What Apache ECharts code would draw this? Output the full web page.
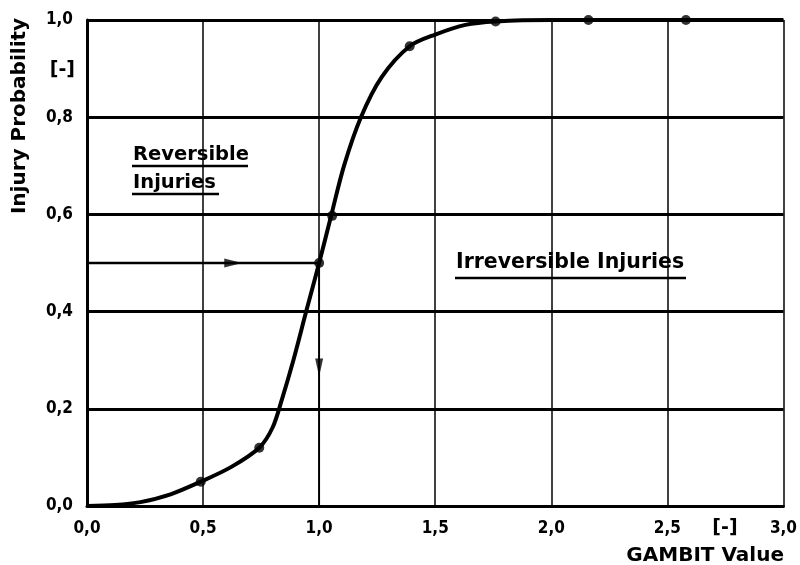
<!DOCTYPE html>
<html><head><meta charset="utf-8">
<script src="https://cdn.jsdelivr.net/npm/echarts@6/dist/echarts.min.js"></script>
<style>html,body{margin:0;padding:0;background:#fff}#c{width:800px;height:565px}</style>
</head><body><div id="c"></div>
<script>
// curve [GAMBIT value, injury probability]
const curveX = [0, 0.12, 0.23, 0.36, 0.49, 0.62, 0.742, 0.80, 0.84, 0.889, 0.944, 1.0, 1.053, 1.107, 1.18, 1.27, 1.39, 1.5, 1.63, 1.76, 2.0, 3.0];
const curveY = [0, 0.002, 0.008, 0.024, 0.05, 0.08, 0.12, 0.162, 0.22, 0.3, 0.4, 0.5, 0.6, 0.7, 0.8, 0.883, 0.946, 0.97, 0.99, 0.997, 1.0, 1.0];
// measured points (dots)
const pointX = [0.49, 0.742, 1.0, 1.056, 1.39, 1.76, 2.16, 2.58];
const pointY = [0.05, 0.12, 0.5, 0.597, 0.946, 0.997, 1.0, 1.0];
// reading arrows
const hArrow = [[0, 0.5], [1.0, 0.5]];
const vArrow = [[1.0, 0.5], [1.0, 0]];
const hHead = [0.63, 0.5];
const vHead = [1.0, 0.285];
const xTicks = ['0,0', '0,5', '1,0', '1,5', '2,0', '2,5', '3,0'];
const yTicks = ['0,0', '0,2', '0,4', '0,6', '0,8', '1,0'];

const FN = '"DejaVu Sans Condensed", "DejaVu Sans", sans-serif';
const F = '"DejaVu Sans", sans-serif';
const chart = echarts.init(document.getElementById('c'), null, {renderer: 'canvas'});
chart.setOption({
  animation: false,
  backgroundColor: '#fff',
  grid: {left: 87, right: 12, top: 20, bottom: 59, containLabel: false},
  xAxis: {
    type: 'value', min: 0, max: 3, interval: 0.5,
    axisLine: {show: true, lineStyle: {color: '#000', width: 3}},
    axisTick: {show: false},
    axisLabel: {margin: 14, color: '#000', fontFamily: FN, fontWeight: 'bold', fontSize: 17,
      formatter: (v) => xTicks[Math.round(v / 0.5)]},
    splitLine: {show: true, lineStyle: {color: '#000', width: 1.5}}
  },
  yAxis: {
    type: 'value', min: 0, max: 1, interval: 0.2,
    axisLine: {show: true, lineStyle: {color: '#000', width: 3}},
    axisTick: {show: false},
    axisLabel: {margin: 14, color: '#000', fontFamily: FN, fontWeight: 'bold', fontSize: 17,
      formatter: (v) => yTicks[Math.round(v / 0.2)]},
    splitLine: {show: true, lineStyle: {color: '#000', width: 3}}
  },
  series: [
    {type: 'line', data: curveX.map((x, i) => [x, curveY[i]]), smooth: 0.3, symbol: 'none',
      lineStyle: {color: '#000', width: 4}, z: 5},
    {type: 'scatter', data: pointX.map((x, i) => [x, pointY[i]]), symbol: 'circle', symbolSize: 10,
      itemStyle: {color: '#000'}, z: 6},
    {type: 'line', data: hArrow, symbol: 'none', lineStyle: {color: '#000', width: 2.5}, z: 4},
    {type: 'line', data: vArrow, symbol: 'none', lineStyle: {color: '#000', width: 1.8}, z: 4},
    {type: 'scatter', data: [hHead], symbol: 'triangle', symbolSize: [9, 18], symbolRotate: -90,
      itemStyle: {color: '#000'}, z: 6},
    {type: 'scatter', data: [vHead], symbol: 'triangle', symbolSize: [8, 18], symbolRotate: 180,
      itemStyle: {color: '#000'}, z: 6}
  ],
  graphic: [
    {type: 'text', x: 20, y: 116, rotation: Math.PI / 2,
      style: {text: 'Injury Probability', font: 'bold 20px ' + F, fill: '#000', align: 'center', verticalAlign: 'middle'}},
    {type: 'text', x: 75, y: 70,
      style: {text: '[-]', font: 'bold 19px ' + F, fill: '#000', align: 'right', verticalAlign: 'middle'}},
    {type: 'text', x: 725, y: 528,
      style: {text: '[-]', font: 'bold 19px ' + F, fill: '#000', align: 'center', verticalAlign: 'middle'}},
    {type: 'text', x: 784, y: 556,
      style: {text: 'GAMBIT Value', font: 'bold 20px ' + F, fill: '#000', align: 'right', verticalAlign: 'middle'}},
    {type: 'text', x: 133, y: 155,
      style: {text: 'Reversible', font: 'bold 19.5px ' + F, fill: '#000', align: 'left', verticalAlign: 'middle'}},
    {type: 'line', shape: {x1: 132, y1: 166, x2: 248, y2: 166}, style: {stroke: '#000', lineWidth: 2.5}},
    {type: 'text', x: 133, y: 183,
      style: {text: 'Injuries', font: 'bold 19.5px ' + F, fill: '#000', align: 'left', verticalAlign: 'middle'}},
    {type: 'line', shape: {x1: 132, y1: 194, x2: 219, y2: 194}, style: {stroke: '#000', lineWidth: 2.5}},
    {type: 'text', x: 456, y: 263,
      style: {text: 'Irreversible Injuries', font: 'bold 20.5px ' + F, fill: '#000', align: 'left', verticalAlign: 'middle'}},
    {type: 'line', shape: {x1: 455, y1: 278, x2: 686, y2: 278}, style: {stroke: '#000', lineWidth: 2.5}}
  ]
});
</script></body></html>
